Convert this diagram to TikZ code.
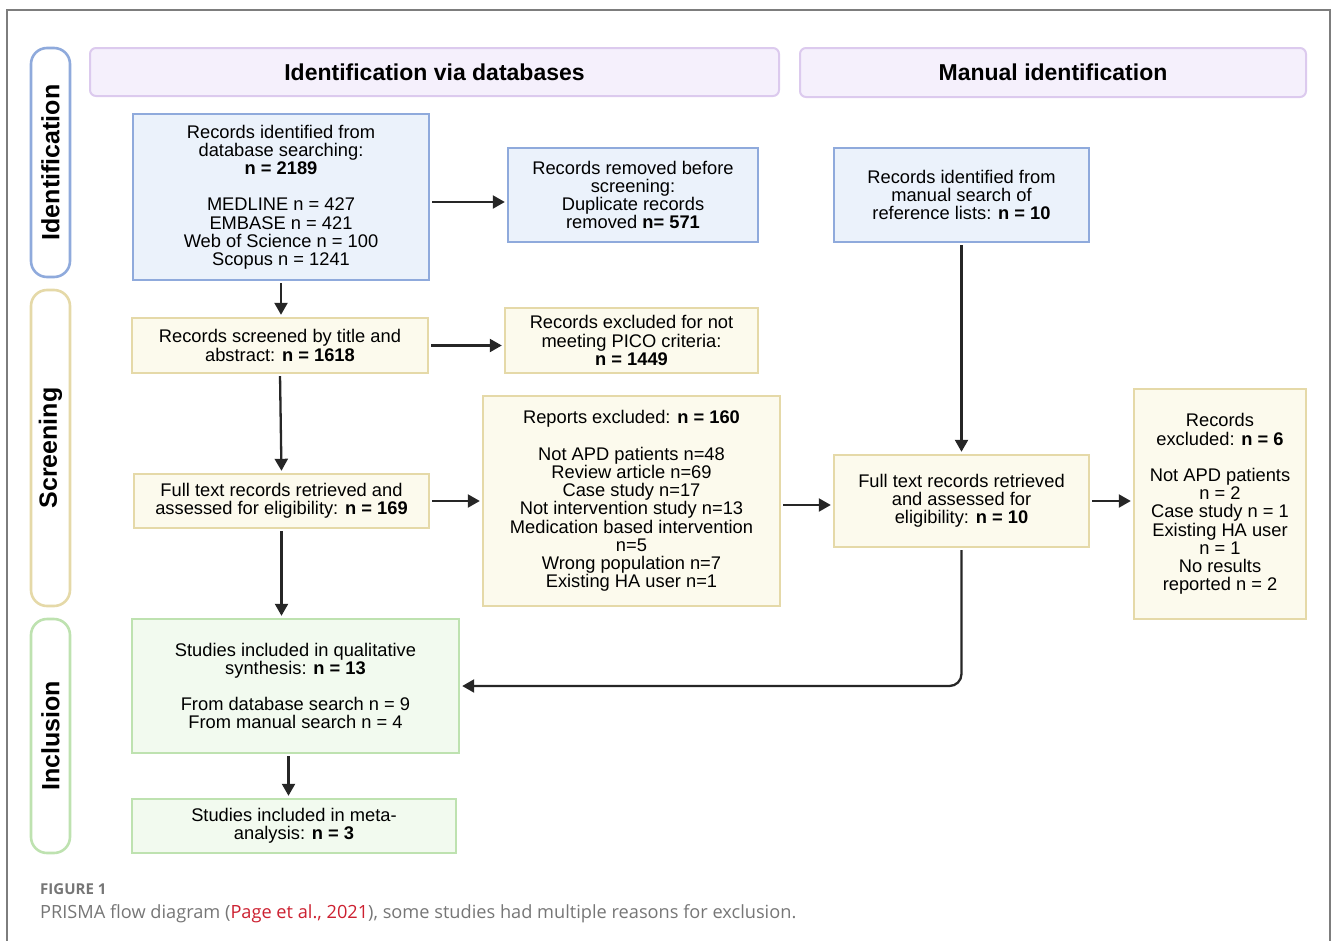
\documentclass[tikz,border=0pt]{standalone}
\usepackage{fontspec}
\setmainfont{Liberation Sans}
\newfontfamily\capfont{Open Sans}
\usetikzlibrary{arrows.meta,calc}
\definecolor{bluefill}{RGB}{235,242,251}
\definecolor{blueline}{RGB}{143,170,220}
\definecolor{yelfill}{RGB}{252,250,237}
\definecolor{yelline}{RGB}{229,217,168}
\definecolor{grnfill}{RGB}{242,250,239}
\definecolor{grnline}{RGB}{190,226,176}
\definecolor{lavfill}{RGB}{245,240,252}
\definecolor{lavline}{RGB}{220,202,238}
\definecolor{framegray}{RGB}{125,125,125}
\definecolor{capgray}{RGB}{118,118,118}
\definecolor{capred}{RGB}{204,32,48}
\definecolor{arrowcol}{RGB}{38,38,38}
\tikzset{
  bodyfont/.style={font=\fontsize{18.3}{18.2}\selectfont},
  box/.style={draw, line width=2.4pt, inner sep=0pt, align=center, bodyfont},
  bluebox/.style={box, draw=blueline, fill=bluefill},
  yelbox/.style={box, draw=yelline, fill=yelfill},
  grnbox/.style={box, draw=grnline, fill=grnfill},
  header/.style={draw=lavline, fill=lavfill, line width=2pt, rounded corners=6pt, inner sep=0pt,
    font=\bfseries\fontsize{23}{23}\selectfont},
  side/.style={fill=white, line width=2.6pt, rounded corners=16pt, inner sep=0pt, rotate=90,
    font=\bfseries\fontsize{25}{25}\selectfont, minimum height=39pt},
  flow/.style={draw=arrowcol, line width=2.3pt, -{Triangle[length=12pt,width=13pt]},
    shorten <=2pt, shorten >=2pt},
}
\begin{document}
\begin{tikzpicture}[x=1pt,y=-1pt]
\useasboundingbox (0,0) rectangle (1333,940);
% outer frame
\draw[framegray, line width=1.5pt] (7,945) -- (7,10) -- (1330,10) -- (1330,945);

% side labels
\node[side, draw=blueline, minimum width=229pt] (sid) at (50.5,162.5) {Identification};
\node[side, draw=yelline, minimum width=316pt] (sscr) at (50.5,448) {Screening};
\node[side, draw=grnline, minimum width=234pt] (sinc) at (50.5,736) {Inclusion};

% headers
\node[header, minimum width=689pt, minimum height=48pt] (h1) at (434.5,72) {Identification via databases};
\node[header, minimum width=506pt, minimum height=49pt] (h2) at (1053,72.5) {Manual identification};

% boxes
\node[bluebox, minimum width=296pt, minimum height=166pt] (db) at (281,197)
  {Records identified from\\database searching:\\\textbf{n = 2189}\\[18.2pt]MEDLINE n = 427\\EMBASE n = 421\\Web of Science n = 100\\Scopus n = 1241};
\node[bluebox, minimum width=250pt, minimum height=94pt] (removed) at (633,195)
  {Records removed before\\screening:\\Duplicate records\\removed \textbf{n= 571}};
\node[bluebox, minimum width=255pt, minimum height=94pt] (manual) at (961.5,195)
  {Records identified from\\manual search of\\reference lists: \textbf{n = 10}};
\node[yelbox, minimum width=296pt, minimum height=55pt] (screened) at (280,345.5)
  {Records screened by title and\\abstract: \textbf{n = 1618}};
\node[yelbox, minimum width=253pt, minimum height=65pt] (pico) at (631.5,340.5)
  {Records excluded for not\\meeting PICO criteria:\\\textbf{n = 1449}};
\node[yelbox, minimum width=295pt, minimum height=54pt] (fulltext) at (281.5,501)
  {Full text records retrieved and\\assessed for eligibility: \textbf{n = 169}};
\node[yelbox, minimum width=297pt, minimum height=210pt] (reports) at (631.5,501)
  {Reports excluded: \textbf{n = 160}\\[18.2pt]Not APD patients n=48\\Review article n=69\\Case study n=17\\Not intervention study n=13\\Medication based intervention\\n=5\\Wrong population n=7\\Existing HA user n=1};
\node[yelbox, minimum width=255pt, minimum height=92pt] (mfull) at (961.5,501)
  {Full text records retrieved\\and assessed for\\eligibility: \textbf{n = 10}};
\node[yelbox, minimum width=172pt, minimum height=230pt] (rexcl) at (1220,504)
  {Records\\excluded: \textbf{n = 6}\\[18.2pt]Not APD patients\\n = 2\\Case study n = 1\\Existing HA user\\n = 1\\No results\\reported n = 2};
\node[grnbox, minimum width=327pt, minimum height=134pt] (qual) at (295.5,686)
  {Studies included in qualitative\\synthesis: \textbf{n = 13}\\[18.2pt]From database search n = 9\\From manual search n = 4};
\node[grnbox, minimum width=324pt, minimum height=54pt] (meta) at (294,826)
  {Studies included in meta-\\analysis: \textbf{n = 3}};

% connectors
\draw[flow] ([yshift=-5pt]db.east) -- ([yshift=-5pt]db.east -| removed.west);
\draw[flow] (db.south) -- (db.south |- screened.north);
\draw[flow] (screened.east) -- (screened.east -| pico.west);
\draw[flow] (screened.south) -- (fulltext.north);
\draw[flow] (fulltext.east) -- (reports.west);
\draw[flow] ([yshift=-4pt]reports.east) -- ([yshift=-4pt]reports.east -| mfull.west);
\draw[flow] (manual.south) -- (mfull.north);
\draw[flow] (mfull.east) -- (mfull.east -| rexcl.west);
\draw[flow] (fulltext.south) -- (fulltext.south |- qual.north);
\draw[flow, rounded corners=12pt] (mfull.south) |- (qual.east);
\draw[flow] ([xshift=-7pt]qual.south) -- ([xshift=-7pt]qual.south |- meta.north);

% caption
\node[anchor=base west, inner sep=0pt, text=capgray, font=\capfont\bfseries\fontsize{15}{15}\selectfont] (fig) at (40,894) {FIGURE 1};
\node[anchor=base west, inner sep=0pt, text=capgray, font=\capfont\fontsize{18.2}{18.2}\selectfont] (cap) at (40,918)
  {PRISMA flow diagram ({\color{capred}Page et al., 2021}), some studies had multiple reasons for exclusion.};
\end{tikzpicture}
\end{document}
